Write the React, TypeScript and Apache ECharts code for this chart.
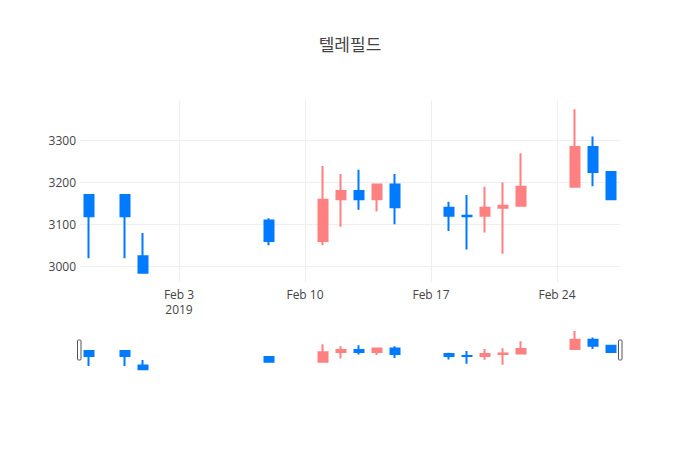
import React, { useEffect, useRef } from 'react';
import * as echarts from 'echarts';

const chartTitle = '텔레필드';
const dates = [
  '2019-01-29', '2019-01-31', '2019-02-01', '2019-02-08', '2019-02-11',
  '2019-02-12', '2019-02-13', '2019-02-14', '2019-02-15', '2019-02-18',
  '2019-02-19', '2019-02-20', '2019-02-21', '2019-02-22', '2019-02-25',
  '2019-02-26', '2019-02-27',
];
const opens = [3170, 3170, 3025, 3110, 3061, 3160, 3180, 3160, 3195, 3140, 3121, 3121, 3140, 3145, 3190, 3284, 3225];
const closes = [3120, 3120, 2986, 3061, 3159, 3180, 3160, 3195, 3141, 3121, 3120, 3140, 3145, 3190, 3284, 3225, 3160];
const lows = [3020, 3020, 2986, 3051, 3051, 3095, 3135, 3131, 3101, 3085, 3041, 3081, 3031, 3145, 3190, 3191, 3160];
const highs = [3170, 3170, 3080, 3115, 3239, 3220, 3230, 3195, 3220, 3154, 3170, 3190, 3200, 3269, 3374, 3309, 3225];
const xTickDates = ['2019-02-03', '2019-02-10', '2019-02-17', '2019-02-24'];
const yTicks = [3000, 3100, 3200, 3300];
const xRange = ['2019-01-28', '2019-02-27'];
const yRange = [2964, 3394];

const MONTHS = ['Jan', 'Feb', 'Mar', 'Apr', 'May', 'Jun', 'Jul', 'Aug', 'Sep', 'Oct', 'Nov', 'Dec'];
const DAY = 86400000;
const toDay = (s: string) => {
  const [y, m, d] = s.split('-').map(Number);
  return Date.UTC(y, m - 1, d) / DAY;
};

export default function App() {
  const ref = useRef<HTMLDivElement>(null);
  useEffect(() => {
    document.body.style.margin = '0';
    const chart = echarts.init(ref.current!, null, { renderer: 'svg' });
    const data = dates.map((d, i) => [toDay(d), opens[i], closes[i], lows[i], highs[i]]);
    const xTicks = xTickDates.map(toDay);
    const xMin = toDay(xRange[0]) + 0.5;
    const xMax = toDay(xRange[1]) + 0.5;
    const up = '#ff8080';
    const down = '#007aff';
    const font = { fontFamily: 'Open Sans', fontSize: 12, color: '#444' };
    const itemStyle = {
      color: up,
      color0: down,
      borderColor: up,
      borderColor0: down,
      borderWidth: 2,
    };
    chart.setOption({
      animation: false,
      backgroundColor: '#fff',
      title: {
        text: chartTitle,
        left: 'center',
        top: 28,
        textStyle: { fontFamily: 'Noto Sans CJK KR', fontSize: 17, fontWeight: 'normal', color: '#444', lineHeight: 20 },
      },
      grid: [
        { left: 80, width: 540, top: 100.7, height: 181.2 },
        { left: 80, width: 540, top: 329, height: 42.4 },
      ],
      xAxis: [
        {
          type: 'value', gridIndex: 0, min: xMin, max: xMax,
          axisLine: { show: false },
          axisTick: { show: false, customValues: xTicks },
          splitLine: { show: true, lineStyle: { color: '#eee', width: 1 }, customValues: xTicks },
          axisLabel: {
            ...font, margin: 5, lineHeight: 15, customValues: xTicks,
            formatter: (v: number) => {
              const dt = new Date(Math.round(v) * DAY);
              const s = `${MONTHS[dt.getUTCMonth()]} ${dt.getUTCDate()}`;
              return Math.round(v) === xTicks[0] ? `${s}\n${dt.getUTCFullYear()}` : s;
            },
          },
        },
        { type: 'value', gridIndex: 1, min: xMin, max: xMax, show: false },
      ],
      yAxis: [
        {
          type: 'value', gridIndex: 0, min: yRange[0], max: yRange[1],
          axisLine: { show: false },
          axisTick: { show: false, customValues: yTicks },
          splitLine: { show: true, lineStyle: { color: '#eee', width: 1 }, customValues: yTicks },
          axisLabel: { ...font, margin: 4, customValues: yTicks, formatter: (v: number) => String(v) },
        },
        { type: 'value', gridIndex: 1, min: yRange[0], max: yRange[1], show: false },
      ],
      series: [
        {
          type: 'candlestick', xAxisIndex: 0, yAxisIndex: 0, data,
          encode: { x: 0, y: [1, 2, 3, 4] }, barWidth: 9, itemStyle,
        },
        {
          type: 'candlestick', xAxisIndex: 1, yAxisIndex: 1, data,
          encode: { x: 0, y: [1, 2, 3, 4] }, barWidth: 9, itemStyle, silent: true,
        },
      ],
      graphic: [
        { type: 'rect', shape: { x: 77.5, y: 340, width: 3.5, height: 20, r: 1 }, style: { fill: '#fff', stroke: '#555', lineWidth: 1 } },
        { type: 'rect', shape: { x: 618.5, y: 340, width: 3.5, height: 20, r: 1 }, style: { fill: '#fff', stroke: '#555', lineWidth: 1 } },
      ],
    });
    return () => chart.dispose();
  }, []);
  return <div ref={ref} style={{ width: 700, height: 450 }} />;
}
